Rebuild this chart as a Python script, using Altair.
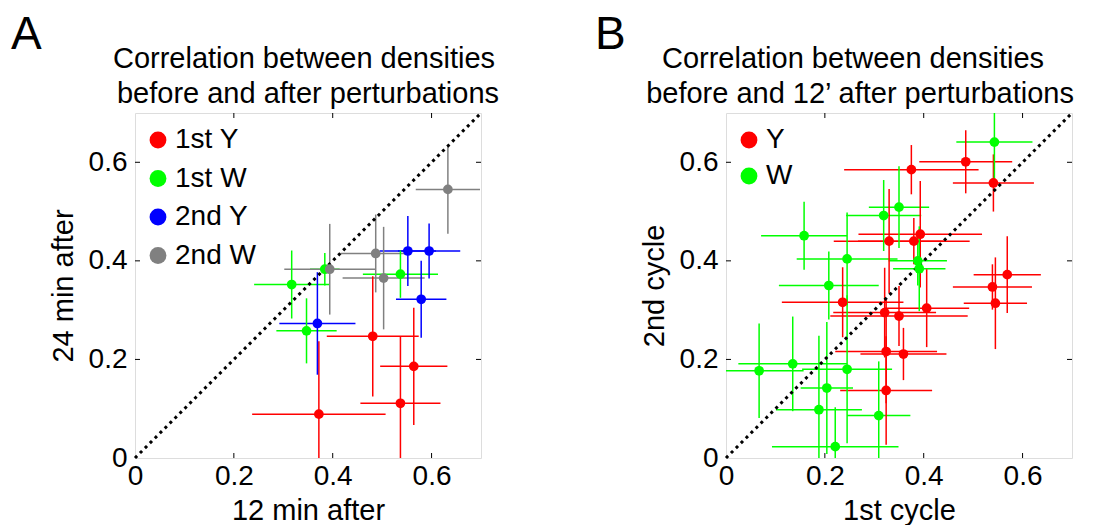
import altair as alt
import pandas as pd

FONT = "Liberation Sans"
W, H = 346, 345

# ---------------- Panel A data ----------------
a_groups = ["1st Y", "1st W", "2nd Y", "2nd W"]
a_colors = ["#ff0000", "#00ff00", "#0000ff", "#808080"]
a_group = ["1st Y"] * 4 + ["1st W"] * 4 + ["2nd Y"] * 4 + ["2nd W"] * 4
a_x = [0.372, 0.481, 0.537, 0.564,
       0.317, 0.347, 0.384, 0.537,
       0.369, 0.552, 0.595, 0.579,
       0.394, 0.487, 0.503, 0.633]
a_y = [0.089, 0.247, 0.111, 0.186,
       0.352, 0.258, 0.383, 0.373,
       0.273, 0.420, 0.420, 0.322,
       0.383, 0.415, 0.365, 0.545]
a_xerr = [0.135, 0.093, 0.081, 0.068,
          0.076, 0.061, 0.030, 0.076,
          0.077, 0.057, 0.063, 0.051,
          0.092, 0.071, 0.083, 0.065]
a_yerr = [0.148, 0.122, 0.135, 0.119,
          0.069, 0.066, 0.033, 0.048,
          0.104, 0.071, 0.056, 0.078,
          0.092, 0.079, 0.104, 0.090]

# ---------------- Panel B data ----------------
b_groups = ["Y", "W"]
b_colors = ["#ff0000", "#00ff00"]
b_group = ["Y"] * 16 + ["W"] * 15
b_x = [0.485, 0.375, 0.541, 0.330, 0.380, 0.393, 0.569, 0.539,
       0.545, 0.236, 0.321, 0.350, 0.406, 0.324, 0.359, 0.324,
       0.543, 0.350, 0.319, 0.158, 0.245, 0.388, 0.391, 0.208,
       0.067, 0.135, 0.245, 0.204, 0.188, 0.309, 0.221]
b_y = [0.601, 0.585, 0.558, 0.440, 0.440, 0.454, 0.372, 0.347,
       0.314, 0.316, 0.295, 0.288, 0.304, 0.216, 0.211, 0.137,
       0.641, 0.509, 0.492, 0.451, 0.404, 0.400, 0.384, 0.350,
       0.177, 0.191, 0.180, 0.142, 0.098, 0.086, 0.023]
b_xerr = [0.094, 0.136, 0.082, 0.112, 0.113, 0.125, 0.068, 0.080,
          0.064, 0.123, 0.104, 0.139, 0.086, 0.103, 0.087, 0.093,
          0.077, 0.061, 0.076, 0.087, 0.102, 0.059, 0.053, 0.101,
          0.090, 0.110, 0.091, 0.053, 0.087, 0.064, 0.128]
b_yerr = [0.064, 0.050, 0.058, 0.106, 0.047, 0.108, 0.078, 0.046,
          0.093, 0.071, 0.091, 0.061, 0.079, 0.105, 0.053, 0.110,
          0.085, 0.083, 0.072, 0.069, 0.094, 0.050, 0.086, 0.069,
          0.096, 0.096, 0.150, 0.134, 0.150, 0.110, 0.080]

axis_values = [0, 0.2, 0.4, 0.6]
inner_ticks = [0.2, 0.4, 0.6]
domain = [0, 0.7]


def panel(gr, xs, ys, xe, ye, groups, colors, title, xlab, ylab, letter,
          letter_dx, title_cx, rowpad):
    cmap = dict(zip(groups, colors))
    df = pd.DataFrame({"g": gr, "x": xs, "y": ys, "xe": xe, "ye": ye})
    df["x1"] = df.x - df.xe
    df["x2"] = df.x + df.xe
    df["y1"] = df.y - df.ye
    df["y2"] = df.y + df.ye
    df["c"] = df.g.map(cmap)

    xsc = alt.Scale(domain=domain, nice=False, zero=False)
    ysc = alt.Scale(domain=domain, nice=False, zero=False)
    common = dict(values=axis_values, grid=False, domain=False, ticks=False,
                  tickSize=0,
                  labelExpr="datum.value == 0 ? '0' : format(datum.value, '.1f')",
                  labelFont=FONT, labelFontSize=28, labelColor="black",
                  titleFont=FONT, titleFontSize=29, titleFontWeight="normal",
                  titleColor="black")
    xax = alt.Axis(title=xlab, titlePadding=6, labelPadding=4, labelFlush=False, **common)
    yax = alt.Axis(title=ylab, titlePadding=10, labelPadding=8, labelFlush=False, **common)

    def X(f):
        return alt.X(f, type="quantitative", scale=xsc, axis=xax)

    def Y(f):
        return alt.Y(f, type="quantitative", scale=ysc, axis=yax)

    base = alt.Chart(df)
    hbar = base.mark_rule(strokeWidth=1.5, clip=True).encode(
        x=X("x1"), x2="x2:Q", y=Y("y"), color=alt.Color("c:N", scale=None))
    vbar = base.mark_rule(strokeWidth=1.5, clip=True).encode(
        x=X("x"), y=Y("y1"), y2="y2:Q", color=alt.Color("c:N", scale=None))
    pts = base.mark_circle(size=95, opacity=1).encode(
        x=X("x"), y=Y("y"),
        color=alt.Color("g:N", scale=alt.Scale(domain=groups, range=colors),
                        legend=alt.Legend(title=None, orient="none", legendX=9,
                                          legendY=13, symbolType="circle",
                                          symbolSize=283, symbolStrokeWidth=0,
                                          symbolOpacity=1, labelFont=FONT,
                                          labelFontSize=28, labelColor="black",
                                          rowPadding=rowpad, labelOffset=3)))

    diag_df = pd.DataFrame({"x": domain, "y": domain})
    diag = alt.Chart(diag_df).mark_line(color="black", strokeWidth=3,
                                        strokeDash=[3, 4], strokeCap="butt").encode(
        x=X("x"), y=Y("y"))

    tdf = pd.DataFrame({"t": inner_ticks})
    tb = alt.Chart(tdf)
    tk = dict(color="black", strokeWidth=1)
    t_bottom = tb.mark_rule(**tk).encode(x=X("t"), y=alt.value(H), y2=alt.value(H - 5))
    t_top = tb.mark_rule(**tk).encode(x=X("t"), y=alt.value(0), y2=alt.value(5))
    t_left = tb.mark_rule(**tk).encode(y=Y("t"), x=alt.value(0), x2=alt.value(5))
    t_right = tb.mark_rule(**tk).encode(y=Y("t"), x=alt.value(W), x2=alt.value(W - 5))

    ldf = pd.DataFrame({"s": [letter]})
    let = alt.Chart(ldf).mark_text(font=FONT, fontSize=46, align="left",
                                   baseline="alphabetic", color="black").encode(
        text="s:N", x=alt.value(letter_dx), y=alt.value(-64))

    tl1 = alt.Chart(pd.DataFrame({"s": [title[0]]})).mark_text(
        font=FONT, fontSize=29, align="center", baseline="alphabetic", color="black"
    ).encode(text="s:N", x=alt.value(title_cx[0]), y=alt.value(-45))
    tl2 = alt.Chart(pd.DataFrame({"s": [title[1]]})).mark_text(
        font=FONT, fontSize=29, align="center", baseline="alphabetic", color="black"
    ).encode(text="s:N", x=alt.value(title_cx[1]), y=alt.value(-10))

    return alt.layer(hbar, vbar, diag, pts, t_bottom, t_top, t_left, t_right,
                     let, tl1, tl2).properties(width=W, height=H)


pA = panel(a_group, a_x, a_y, a_xerr, a_yerr, a_groups, a_colors,
           ["Correlation between densities", "before and after perturbations"],
           "12 min after", "24 min after", "A", -124, (169, 173), 10.5)
pB = panel(b_group, b_x, b_y, b_xerr, b_yerr, b_groups, b_colors,
           ["Correlation between densities", "before and 12\u2019 after perturbations"],
           "1st cycle", "2nd cycle", "B", -131, (127, 134), 8)

chart = alt.hconcat(pA, pB, spacing=94).resolve_scale(color="independent").properties(
    padding={"left": 2, "top": 3, "right": 0, "bottom": 0}
).configure_view(stroke="black", strokeWidth=1.2).configure(background="white")

chart.save("out.html", embed_options={"renderer": "svg", "actions": False})
